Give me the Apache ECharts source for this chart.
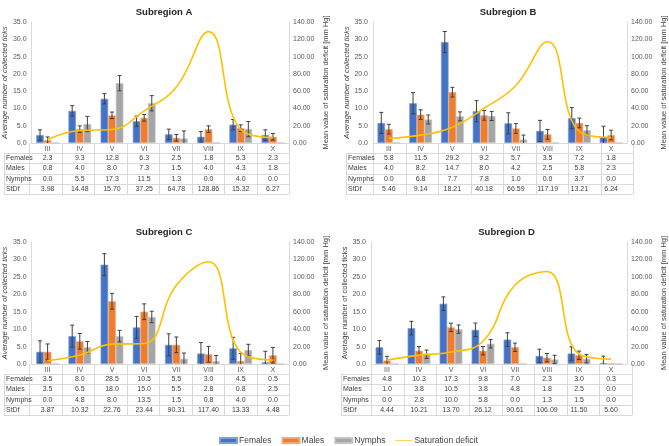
<!DOCTYPE html>
<html><head><meta charset="utf-8">
<script src="https://cdn.jsdelivr.net/npm/echarts@6/dist/echarts.min.js"></script>
<style>html,body{margin:0;padding:0;background:#fff}#c{width:669px;height:446px}</style>
</head><body><div id="c"></div>
<script>
const months = ['III','IV','V','VI','VII','VIII','IX','X'];
const rowLabels = ['Females','Males','Nymphs','StDf'];
const subregions = ['Subregion A','Subregion B','Subregion C','Subregion D'];

const femalesA = [2.3, 9.3, 12.8, 6.3, 2.5, 1.8, 5.3, 2.3];
const malesA   = [0.8, 4.0, 8.0, 7.3, 1.5, 4.0, 4.3, 1.8];
const nymphsA  = [0.0, 5.5, 17.3, 11.5, 1.3, 0.0, 4.0, 0.0];
const stdfA    = [3.98, 14.48, 15.70, 37.25, 64.78, 128.86, 15.32, 6.27];
const errA     = [1.5, 0.95, 2.2];

const femalesB = [5.8, 11.5, 29.2, 9.2, 5.7, 3.5, 7.2, 1.8];
const malesB   = [4.0, 8.2, 14.7, 8.0, 4.2, 2.5, 5.8, 2.3];
const nymphsB  = [0.0, 6.8, 7.7, 7.8, 1.0, 0.0, 3.7, 0.0];
const stdfB    = [5.46, 9.14, 18.21, 40.18, 66.59, 117.19, 13.21, 6.24];
const errB     = [3.05, 1.4, 1.3];

const femalesC = [3.5, 8.0, 28.5, 10.5, 5.5, 3.0, 4.5, 0.5];
const malesC   = [3.5, 6.5, 18.0, 15.0, 5.5, 2.8, 0.8, 2.5];
const nymphsC  = [0.0, 4.8, 8.0, 13.5, 1.5, 0.8, 4.0, 0.0];
const stdfC    = [3.87, 10.32, 22.76, 23.44, 90.31, 117.40, 13.33, 4.48];
const errC     = [3.15, 2.25, 1.65];

const femalesD = [4.8, 10.3, 17.3, 9.8, 7.0, 2.3, 3.0, 0.3];
const malesD   = [1.0, 3.8, 10.5, 3.8, 4.8, 1.8, 2.5, 0.0];
const nymphsD  = [0.0, 2.8, 10.0, 5.8, 0.0, 1.3, 1.5, 0.0];
const stdfD    = [4.44, 10.21, 13.70, 26.12, 90.61, 106.09, 11.50, 5.60];
const errD     = [1.95, 1.2, 1.2];

const panels = [
  {f:femalesA, m:malesA, n:nymphsA, s:stdfA, e:errA},
  {f:femalesB, m:malesB, n:nymphsB, s:stdfB, e:errB},
  {f:femalesC, m:malesC, n:nymphsC, s:stdfC, e:errC},
  {f:femalesD, m:malesD, n:nymphsD, s:stdfD, e:errD}
];
// layout
const grids = [
  {left:29, top:22, width:260, height:121, tableLeft:4},
  {left:373, top:22, width:260, height:121, tableLeft:346},
  {left:29, top:242, width:260, height:122, tableLeft:4},
  {left:371, top:242, width:261, height:122, tableLeft:341}
];
const colors = ['#4472C4','#ED7D31','#A5A5A5','#FFC000'];
const borders = ['#7f9fd8','#f2a777','#c4c4c4'];
const names = ['Females','Males','Nymphs','Saturation deficit'];
const FONT = '"Liberation Sans", Arial, sans-serif';
const BW = 7.6;

const chart = echarts.init(document.getElementById('c'), null, {renderer:'canvas'});
const option = {
  animation:false,
  backgroundColor:'#fff',
  textStyle:{fontFamily:FONT},
  title: grids.map((g,i)=>({text:subregions[i], left:g.left+g.width/2, textAlign:'center', top:g.top-20,
    textStyle:{fontSize:9.5, fontWeight:'bold', color:'#262626', fontFamily:FONT}})),
  legend:{left:214, top:431, itemWidth:17, itemHeight:5, itemGap:10,
    textStyle:{fontSize:8.5, color:'#404040', padding:[0,0,0,-3]},
    data:[{name:'Females',icon:'rect'},{name:'Males',icon:'rect'},{name:'Nymphs',icon:'rect'},
      {name:'Saturation deficit', icon:'path://M0,0 L40,0 L40,1.6 L0,1.6 Z', itemStyle:{color:'#FFC000'}}]},
  grid: grids.map(g=>({left:g.left, top:g.top, width:g.width, height:g.height})),
  xAxis: grids.map((g,i)=>({type:'category', gridIndex:i, data:months, boundaryGap:true,
    axisLine:{lineStyle:{color:'#d9d9d9'}}, axisTick:{show:false},
    axisLabel:{fontSize:7, color:'#595959', margin:3, interval:0}})),
  yAxis: [],
  series: []
};
grids.forEach((g,i)=>{
  option.yAxis.push({type:'value', gridIndex:i, min:0, max:35, interval:5,
    name:'Average number of collected ticks', nameLocation:'middle', nameRotate:90, nameGap:21,
    nameTextStyle:{fontSize:7.5, color:'#404040', fontStyle: i<3 ? 'italic':'normal'},
    axisLine:{show:true, lineStyle:{color:'#d9d9d9'}}, splitLine:{show:false},
    axisLabel:{fontSize:7, color:'#595959', margin:5, formatter:v=>v.toFixed(1)}});
  option.yAxis.push({type:'value', gridIndex:i, min:0, max:140, interval:20, position:'right',
    name:'Mean value of saturation deficit [mm Hg]', nameLocation:'middle', nameRotate:90, nameGap:33,
    nameTextStyle:{fontSize:7.5, color:'#404040'},
    axisLine:{show:true, lineStyle:{color:'#d9d9d9'}}, splitLine:{show:false},
    axisLabel:{fontSize:7, color:'#595959', margin:4, formatter:v=>v.toFixed(2)}});
  const p = panels[i];
  const vals = [p.f, p.m, p.n];
  vals.forEach((arr,k)=>{
    option.series.push({type:'bar', name:names[k], xAxisIndex:i, yAxisIndex:2*i, data:arr,
      barWidth:BW, barGap:'0%', itemStyle:{color:colors[k], borderColor:borders[k], borderWidth:0.7}});
  });
  vals.forEach((arr,k)=>{
    const off = (k-1)*BW;
    option.series.push({type:'custom', name:'err'+i+k, xAxisIndex:i, yAxisIndex:2*i, z:5,
      data: arr.map((v,j)=>[j, v, p.e[k]]).filter(d=>d[1]>0),
      encode:{x:0, y:1},
      renderItem:(params, api)=>{
        const x = api.value(0), y = api.value(1), e = api.value(2);
        const lo = Math.max(0, y-e);
        const pt = api.coord([x, y+e]), pb = api.coord([x, lo]);
        const cx = pt[0] + off;
        const st = {stroke:'#404040', lineWidth:1};
        const ch = [
          {type:'line', shape:{x1:cx, y1:pt[1], x2:cx, y2:pb[1]}, style:st},
          {type:'line', shape:{x1:cx-2, y1:pt[1], x2:cx+2, y2:pt[1]}, style:st}
        ];
        if (y-e > 0) ch.push({type:'line', shape:{x1:cx-2, y1:pb[1], x2:cx+2, y2:pb[1]}, style:st});
        return {type:'group', children:ch};
      }});
  });
  option.series.push({type:'line', name:'Saturation deficit', xAxisIndex:i, yAxisIndex:2*i+1, data:p.s,
    smooth:0.45, symbol:'none', lineStyle:{color:colors[3], width:1.6}, itemStyle:{color:colors[3]}, z:6});
});
chart.setOption(option);

// data table drawn under each chart from the category axis scale
const graphics = [];
const LC = '#d9d9d9';
grids.forEach((g,i)=>{
  const p = panels[i];
  const axisY = g.top + g.height;
  const r0 = axisY + 10;
  const rh = 10.3;
  const bottom = r0 + 4*rh;
  const right = g.left + g.width;
  const step = g.width / months.length;
  for (let j=0;j<=months.length;j++){
    const x = Math.round(g.left + j*step)+0.5;
    graphics.push({type:'line', shape:{x1:x, y1:axisY, x2:x, y2:bottom}, style:{stroke:LC, lineWidth:1}, silent:true});
  }
  graphics.push({type:'line', shape:{x1:g.tableLeft+0.5, y1:r0, x2:g.tableLeft+0.5, y2:bottom}, style:{stroke:LC, lineWidth:1}, silent:true});
  for (let r=0;r<=4;r++){
    const y = Math.round(r0 + r*rh)+0.5;
    graphics.push({type:'line', shape:{x1:g.tableLeft, y1:y, x2:right, y2:y}, style:{stroke:LC, lineWidth:1}, silent:true});
  }
  const rows = [p.f.map(v=>v.toFixed(1)), p.m.map(v=>v.toFixed(1)), p.n.map(v=>v.toFixed(1)), p.s.map(v=>v.toFixed(2))];
  rows.forEach((row,r)=>{
    const yc = r0 + r*rh + rh/2;
    graphics.push({type:'text', x:g.tableLeft+2, y:yc, style:{text:rowLabels[r], fontSize:7, fill:'#404040', fontFamily:FONT, textVerticalAlign:'middle', verticalAlign:'middle'}, silent:true});
    row.forEach((t,j)=>{
      const cx = chart.convertToPixel({xAxisIndex:i}, months[j]);
      graphics.push({type:'text', x:cx, y:yc, style:{text:t, fontSize:7, fill:'#404040', fontFamily:FONT, align:'center', textAlign:'center', verticalAlign:'middle', textVerticalAlign:'middle'}, silent:true});
    });
  });
});
chart.setOption({graphic:graphics});
</script>
</body></html>
